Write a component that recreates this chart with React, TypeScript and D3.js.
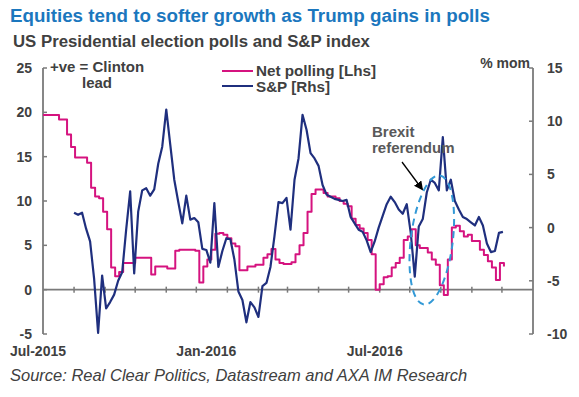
import React from "react";
import * as d3 from "d3";

// Net polling (Clinton lead, % pts) every 4 days from 1 Jul 2015
const polling = [
  19.7, 19.7, 19.7, 19.7, 19.2, 19.2, 17.5, 16.1, 14.9, 14.9,
  14.9, 14.3, 11.5, 10.5, 10.3, 8.8, 6.8, 2.5, 1.5, 2.0,
  3.0, 3.0, 3.0, 3.6, 3.6, 3.6, 3.6, 1.7, 2.6, 2.6,
  2.6, 2.4, 2.4, 4.4, 4.5, 4.5, 4.5, 4.5, 4.4, 0.8,
  2.6, 3.4, 4.5, 6.3, 6.4, 6.2, 5.8, 5.2, 4.9, 2.2,
  2.2, 2.6, 2.6, 2.8, 2.8, 3.6, 4.0, 4.6, 3.4, 3.0,
  2.9, 2.9, 3.1, 4.0, 5.0, 6.4, 8.8, 10.8, 11.3, 11.3,
  10.9, 10.5, 10.5, 10.3, 10.0, 9.7, 9.4, 8.0, 7.3, 6.9,
  6.4, 5.6, 4.0, 0.0, 0.6, 1.4, 1.5, 2.5, 3.0, 3.6,
  5.6, 6.0, 6.8, 5.0, 4.7, 4.7, 4.2, 3.4, 2.8, 0.5,
  -0.6, 3.4, 7.0, 7.2, 6.6, 6.0, 6.2, 5.5, 5.5, 4.5,
  3.9, 3.2, 2.5, 1.1, 3.0, 2.6,
];

// S&P % mom every 4 days from 1 Aug 2015
const sp = [
  1.4, 1.2, 1.4, -0.1, -1.3, -4.8, -9.9, -4.5, -7.6, -7.0,
  -6.3, -5.0, -4.2, -0.2, 3.4, -4.3, 1.5, 3.5, 3.7, 3.0,
  3.6, 6.0, 7.6, 11.1, 7.8, 4.5, 2.4, 0.4, 3.0, 0.75,
  0.9, 0.5, -2.0, -2.1, -3.3, 2.3, -3.7, -2.2, -1.0, -1.1,
  -3.0, -6.0, -6.8, -8.9, -7.0, -7.5, -8.4, -5.5, -5.2, -3.7,
  -0.8, 2.4, 2.3, 2.8, -0.2, 4.5, 6.5, 10.6, 9.2, 7.0,
  6.5, 5.8, 4.0, 3.1, 2.9, 2.7, 2.6, 2.5, 2.6, 1.0,
  0.4, -0.2, -0.4, -1.2, -2.3, -1.3, 0.0, 1.1, 2.2, 2.9,
  2.4, 1.7, 1.3, 2.2, -0.5, -4.6, 0.1, 0.8, 3.3, 4.5,
  4.2, 3.5, 8.5, 3.5, 4.5, 2.5, 1.7, 1.0, 0.8, 0.5,
  0.2, 1.0, 0.2, -1.5, -2.3, -2.2, -0.5, -0.4,
];

const pollStart = new Date(2015, 6, 1);
const spStart = new Date(2015, 7, 1);
const stepDays = 4;

const leftTicks = [-5, 0, 5, 10, 15, 20, 25];
const rightTicks = [-10, -5, 0, 5, 10, 15];
const xLabels = ["Jul-2015", "Jan-2016", "Jul-2016"];
const xLabelDates = [new Date(2015, 5, 26), new Date(2015, 11, 11), new Date(2016, 4, 27)];

const PINK = "#d5137f";
const NAVY = "#1f2f7e";
const AXIS = "#7a7a7a";
const TEXT = "#404040";
const FONT = "'Liberation Sans', Arial, sans-serif";

export default function App() {
  const width = 579, height = 397;
  const x = d3.scaleTime().domain([new Date(2015, 6, 1), new Date(2016, 10, 1)]).range([43, 533]);
  const yL = d3.scaleLinear().domain([-5, 25]).range([334, 68]);
  const yR = d3.scaleLinear().domain([-10, 15]).range([334, 68]);

  const pollData = polling.map((v, i) => ({ d: d3.timeDay.offset(pollStart, i * stepDays), v }));
  const spData = sp.map((v, i) => ({ d: d3.timeDay.offset(spStart, i * stepDays), v }));

  const pollLine = d3.line<any>().x(p => x(p.d)).y(p => yL(p.v)).curve(d3.curveStepAfter);
  const spLine = d3.line<any>().x(p => x(p.d)).y(p => yR(p.v));

  const monthTicks = x.ticks(d3.timeMonth.every(1)).slice(1, -1);
  const [x0, x1] = x.range();
  const zeroY = yL(0);
  const brexitX = x(new Date(2016, 6, 23));
  const brexitY = yL(5.6);

  return (
    <svg width={width} height={height} style={{ position: "absolute", left: 0, top: 0, background: "#fff" }} fontFamily={FONT}>
      <defs>
        <marker id="arr" viewBox="0 0 10 10" refX="8" refY="5" markerWidth="7" markerHeight="7" orient="auto">
          <path d="M0,0 L10,5 L0,10 z" fill="#000" />
        </marker>
      </defs>

      <text x={10} y={22} fontSize={18.8} fontWeight="bold" fill="#1b77be">Equities tend to softer growth as Trump gains in polls</text>
      <text x={13} y={47} fontSize={16.8} fontWeight="bold" fill={TEXT}>US Presidential election polls and S&amp;P index</text>

      {/* axes */}
      <line x1={x0} x2={x0} y1={yL(25)} y2={yL(-5)} stroke={AXIS} strokeWidth={1.8} />
      <line x1={x1} x2={x1} y1={yR(15)} y2={yR(-10)} stroke={AXIS} strokeWidth={1.8} />
      <line x1={x0} x2={x1} y1={zeroY} y2={zeroY} stroke={AXIS} strokeWidth={1.8} />
      {leftTicks.map(t => (
        <g key={"l" + t}>
          <line x1={x0} x2={x0 + 4} y1={yL(t)} y2={yL(t)} stroke={AXIS} strokeWidth={1.5} />
          <text x={32} y={yL(t)} dy="0.36em" textAnchor="end" fontSize={14} fontWeight="bold" fill={TEXT}>{t}</text>
        </g>
      ))}
      {rightTicks.map(t => (
        <g key={"r" + t}>
          <line x1={x1 - 4} x2={x1} y1={yR(t)} y2={yR(t)} stroke={AXIS} strokeWidth={1.5} />
          <text x={547} y={yR(t)} dy="0.36em" textAnchor="start" fontSize={14} fontWeight="bold" fill={TEXT}>{t}</text>
        </g>
      ))}
      {monthTicks.map((d, i) => (
        <line key={"m" + i} x1={x(d)} x2={x(d)} y1={zeroY - 3} y2={zeroY + 3} stroke={AXIS} strokeWidth={1.5} />
      ))}
      {xLabels.map((s, i) => (
        <text key={s} x={x(xLabelDates[i])} y={356} textAnchor="middle" fontSize={14} fontWeight="bold" fill={TEXT}>{s}</text>
      ))}

      <text x={530} y={68} textAnchor="end" fontSize={14} fontWeight="bold" fill={TEXT}>% mom</text>
      <text x={50} y={72} fontSize={15} fontWeight="bold" fill={TEXT}>+ve = Clinton</text>
      <text x={97} y={88} textAnchor="middle" fontSize={15} fontWeight="bold" fill={TEXT}>lead</text>

      {/* series */}
      <path d={pollLine(pollData) || ""} fill="none" stroke={PINK} strokeWidth={2} strokeLinejoin="round" />
      <path d={spLine(spData) || ""} fill="none" stroke={NAVY} strokeWidth={2.2} strokeLinejoin="round" />

      {/* Brexit annotation */}
      <ellipse cx={brexitX} cy={brexitY} rx={21} ry={65}
        transform={`rotate(7 ${brexitX} ${brexitY})`}
        fill="none" stroke="#3399d6" strokeWidth={2} strokeDasharray="7 5" />
      <text x={372} y={137} fontSize={15} fontWeight="bold" fill="#595959">Brexit</text>
      <text x={372} y={153} fontSize={15} fontWeight="bold" fill="#595959">referendum</text>
      <line x1={402} y1={162} x2={422} y2={189} stroke="#000" strokeWidth={1.3} markerEnd="url(#arr)" />

      {/* legend */}
      <line x1={222} x2={253} y1={71} y2={71} stroke={PINK} strokeWidth={2} />
      <text x={256} y={76} fontSize={14} fontWeight="bold" fill={TEXT} textLength={120} lengthAdjust="spacingAndGlyphs">Net polling [Lhs]</text>
      <line x1={222} x2={253} y1={86} y2={86} stroke={NAVY} strokeWidth={2} />
      <text x={256} y={91.8} fontSize={14} fontWeight="bold" fill={TEXT} textLength={74} lengthAdjust="spacingAndGlyphs">S&amp;P [Rhs]</text>

      <text x={10} y={381} fontSize={16.5} fontStyle="italic" fill={TEXT}>Source: Real Clear Politics, Datastream and AXA IM Research</text>
    </svg>
  );
}
